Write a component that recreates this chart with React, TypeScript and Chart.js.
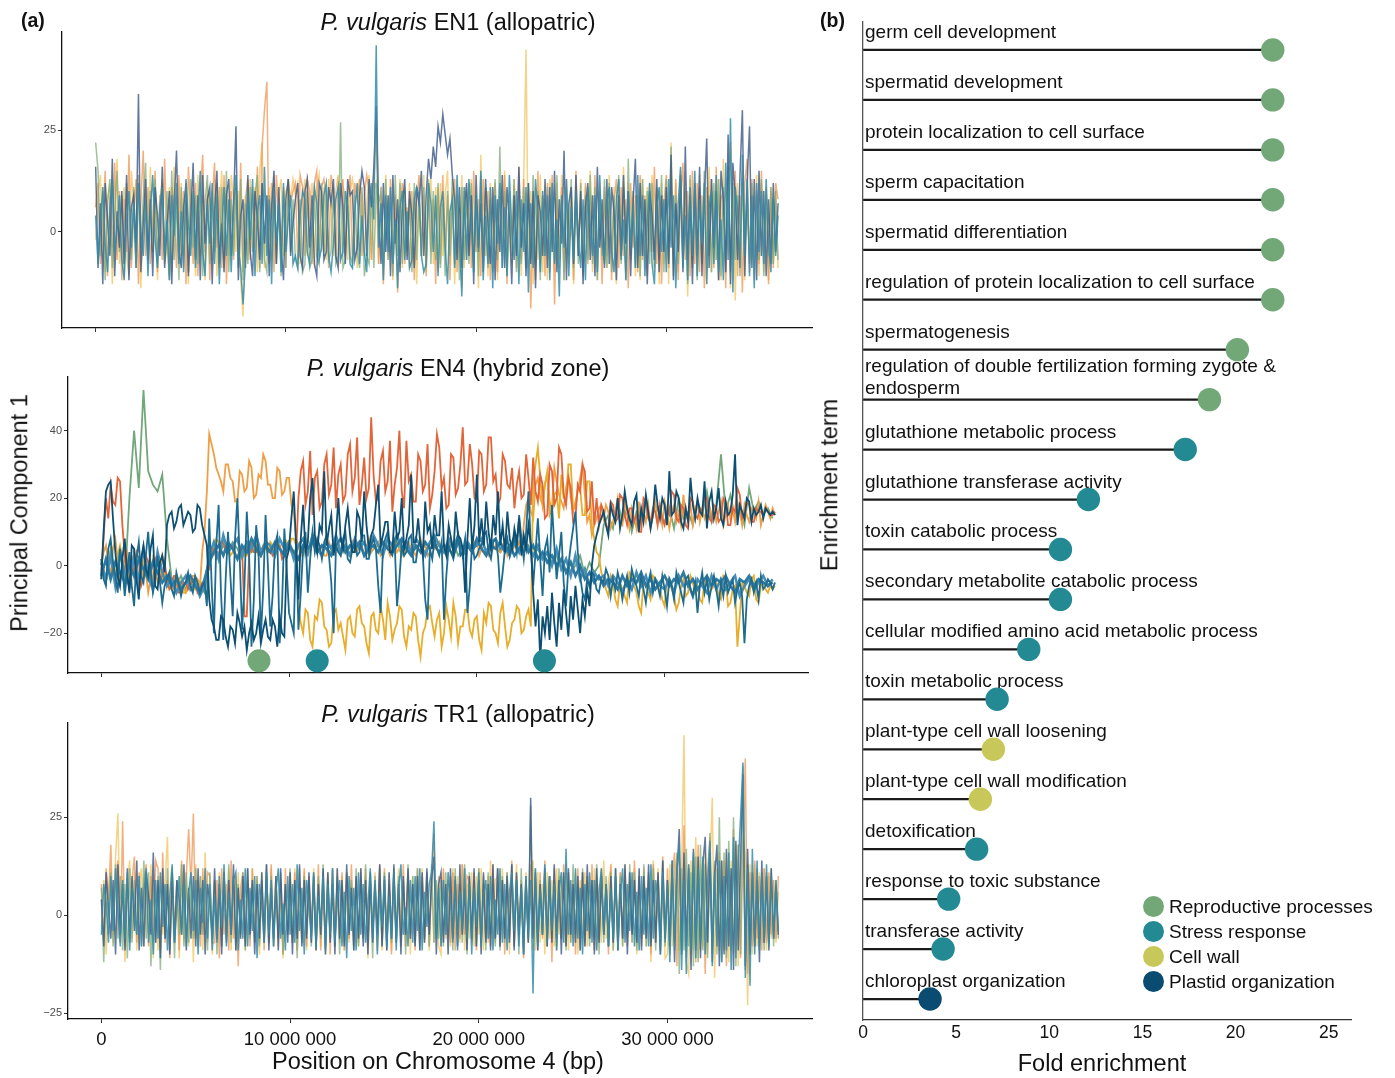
import React, { useEffect, useRef } from 'react';
import { Chart, registerables } from 'chart.js';
Chart.register(...registerables);

const FONT = '"Liberation Sans", Arial, Helvetica, sans-serif';

// ---------------- Panel (a): windowed PCA along chromosome 4 ----------------
const STEP_FINE_BP = 125000; // fine window spacing
const STEP_COARSE_BP = 250000; // coarse window spacing
const X_MIN = -1770000;
const X_MAX = 37660000;
const X_TICKS = [0, 10000000, 20000000, 30000000];
const X_TICK_LABELS = ['0', '10 000 000', '20 000 000', '30 000 000'];

// EN1 (allopatric) — fine windows
const EN1_YELLOW = [
  -2, 9, 14, -6, -10, 8, 12, -13, 5, 18, -8, 3,
  11, -6, -11, 15, 7, -9, 12, -14, 4, 8, -6, 16,
  -5, 10, -12, 8, 13, -8, -4, 11, -10, 16, 6, -7,
  12, -9, 5, -13, 10, 7, -11, 14, -6, 9, -12, 11,
  8, -7, 13, -11, 4, 15, -9, 11, -6, 14, 8, -5,
  10, -12, -21, 9, -7, 13, -4, 11, -10, 15, 22, -9,
  6, 11, -7, 14, -8, 9, 13, -6, 10, 12, 8, 13,
  9, 12, -8, 8, 13, -6, 7, 12, -9, 11, 14, -5,
  11, -7, 13, 7, -6, 10, 14, -8, 11, 9, -7, 10,
  13, 8, -9, 12, 9, -6, 7, 14, -7, 10, 12, -8,
  9, -11, 14, -7, 10, -12, 8, -5, 13, -9, 11, -6,
  12, -8, 10, -13, 9, -6, 14, -10, 7, 13, -8, 11,
  -10, 12, -6, 9, 15, -8, 11, -13, 10, -7, 14, -9,
  11, -5, 13, -10, 8, -14, 19, -6, 10, -11, 12, -7,
  8, -12, 11, -6, 15, -9, 10, -8, 13, -5, 9, -11,
  12, 45, -9, 10, -13, 11, -7, 14, -10, 8, -12, 13,
  9, -10, 12, -7, 14, -12, 10, -8, 11, -13, 8, -6,
  13, -9, 11, -6, 15, -10, 8, -12, 12, -7, 10, -9,
  14, -8, 11, -13, 9, -6, 16, -10, 12, -7, 10, -11,
  8, -12, 13, -9, 11, -5, 14, -10, 9, -13, 12, -8,
  10, -13, 22, -8, 12, -10, 15, -9, 11, -16, 13, -7,
  9, -11, 14, -8, 12, -13, 16, -10, 10, -7, 13, -12,
  18, -10, 13, -14, 11, -17, 12, -9, 15, -12, 10, -8,
  11, -9, 14, -11, 12, -10, 9, -12, 11, -8, 10, -9,
];
const EN1_ORANGE = [
  6, 12, -8, 3, 15, -11, 9, -4, 17, -7, 10, -12,
  8, -5, 19, -9, 4, 13, -13, 7, 20, -6, 11, -8,
  3, 15, -10, 9, -7, 18, -2, -12, 11, 6, -9, 14,
  -6, 10, -13, 16, 5, -8, 12, -11, 8, 19, -5, 9,
  -12, 7, 17, -4, 11, -9, 14, -13, 6, 10, -7, 12,
  -5, 17, -10, 8, 13, -7, 11, -4, 16, -9, 21, 30,
  37, -8, 12, -10, 14, 4, -6, 11, -9, 13, 7, 10,
  12, -7, 14, 11, -6, 13, 10, -8, 12, 15, -5, 11,
  13, 8, -9, 14, 10, -7, 12, 9, 13, -6, 8, 14,
  -8, 12, 8, 13, -6, 9, 14, 10, -7, 12, 26, -8,
  11, -13, 7, -6, 13, -10, 9, -15, 5, 12, -8, 6,
  -9, 10, -12, 7, 14, -6, 9, -11, 12, -5, 8, -13,
  11, -8, 14, -4, 9, -12, 7, 13, -10, 6, -14, 10,
  -7, 12, -9, 15, -5, 8, -11, 13, -6, 10, -12, 7,
  12, -10, 9, -6, 14, -13, 8, -4, 11, -9, 16, -7,
  13, -6, 10, -19, 7, -12, 15, -8, 9, -11, 12, -5,
  14, -18, 8, -7, 11, -10, 13, -6, 9, -12, 15, -4,
  8, -11, 12, -8, 10, -5, 14, -9, 7, -13, 11, -6,
  10, -12, 7, 13, -9, 11, -6, 8, -14, 12, -4, 9,
  -10, 14, -7, 9, -11, 12, -5, 16, -8, 10, -13, 7,
  14, -9, 11, -6, 13, -12, 8, 17, -7, 10, -11, 15,
  -8, 12, -10, 9, -14, 11, -6, 13, -9, 16, -12, 8,
  10, -14, 13, 22, -7, 15, -11, 9, -15, 12, 18, -10,
  13, -12, 9, -8, 15, -6, 11, -13, 10, -9, 12, 8,
];
const EN1_GREEN = [
  22, 15, -6, 10, -12, 7, 13, -9, 4, 15, -5, 9,
  -11, 12, 5, -7, 11, -9, 14, -4, 8, 17, -8, 10,
  -5, 13, -8, 6, 12, -6, 10, -11, 15, -7, 9, -12,
  11, -6, 8, -10, 13, -4, 9, -8, 12, -11, 7, 14,
  -8, 10, -5, 12, -9, 11, -7, 15, -10, 8, -6, 11,
  -9, 13, -12, 7, -8, 11, -5, 9, 14, -10, 12, -7,
  -10, 9, -6, 12, -8, 7, -11, 10, -9, 13, -5, 8,
  -7, -9, 8, -10, -8, 10, -9, -7, 9, -6, -8, 12,
  -6, 10, -7, -5, 11, -8, -6, 27, -9, -7, 10, -6,
  -8, 9, -5, -9, 11, -11, -6, -8, 10, -9, 12, 7,
  10, -9, 13, -7, 9, -11, 14, -6, 12, -8, 10, -5,
  8, -10, 12, -7, 9, -6, 11, -9, 13, -8, 10, -7,
  12, -9, 7, -11, 10, -6, 13, -8, 9, -12, 11, -7,
  10, -8, 12, -6, 9, -11, 14, -7, 11, -9, 8, -10,
  13, -7, 21, -9, 10, -11, 8, -6, 13, -10, 9, -8,
  11, -9, 12, -7, 14, -8, 10, -12, 9, -6, 11, -10,
  10, -7, 14, -9, 8, -12, 11, -6, 13, -9, 10, -8,
  12, -10, 9, -7, 14, -8, 11, -12, 10, -6, 13, -9,
  12, -10, 9, -7, 14, -8, 11, -12, 18, -6, 10, -9,
  9, -11, 13, -6, 10, -8, 12, -9, 11, -7, 14, -10,
  13, -7, 21, -11, 9, -8, 12, -6, 10, -13, 14, -9,
  10, -12, 11, -8, 15, -6, 9, -10, 12, -7, 13, -11,
  11, -8, 16, -10, 12, -7, 9, -11, 13, -6, 10, -8,
  12, -9, 10, -7, 13, -11, 9, -6, 11, -8, 10, -7,
];
const EN1_NAVY = [
  16, -9, 7, -13, 12, 3, -6, 18, -11, 5, -4, 10,
  -8, 14, -12, 6, 9, -5, 34, -10, 2, 13, -7, 8,
  -11, 11, 4, -6, 16, -9, 1, 10, -13, 7, 20, -4,
  -9, 6, 12, -11, 3, 17, -7, 9, -12, 14, -3, 8,
  11, -13, 5, 15, -8, 2, -10, 9, 13, -6, 7, 26,
  -12, 4, 8, -9, 14, -5, -11, 10, 3, -7, 12, -3,
  9, -11, 6, 15, -8, 11, -4, -12, 8, 13, -6, 2,
  8, 12, -6, -9, 10, 13, -4, 9, -8, -11, 12, 10,
  -7, -5, 11, 7, 13, -6, -9, 12, 6, -8, 13, 9,
  10, -7, -4, 9, 15, 11, -6, 13, 6, 16, 31, 5,
  -8, 12, -5, 9, -11, 14, -3, 8, -10, 6, 13, -7,
  10, 4, -9, 11, 7, 15, -6, 9, 18, 13, 21, 16,
  26, 22, 29, 24, 19, 23, 14, 8, -7, 11, -9, 5,
  12, -6, 9, -13, 14, -4, 7, -10, 13, 2, -8, 11,
  -12, 8, -5, 14, -9, 11, 3, -13, 9, -6, 16, -4,
  7, -11, 12, -8, 10, -14, 9, 5, -6, 13, -9, 11,
  -5, 15, -10, 8, -3, 20, -12, 7, 11, -8, 14, -6,
  10, -13, 6, 12, -7, 9, -11, 16, -4, 8, -9, 13,
  -8, 11, 5, -12, 9, -6, 14, -3, 10, -11, 7, 18,
  -9, 12, -6, 8, -13, 10, 4, -7, 13, -10, 9, -5,
  11, -8, 19, -12, 7, -5, 14, -10, 21, -7, 9, -13,
  12, -6, 16, -11, 8, 23, -9, 13, -4, 10, -12, 15,
  8, -10, 24, -13, 17, 9, -7, 14, 30, -11, 12, 26,
  -9, 13, -12, 15, -6, 10, -11, 8, -8, 12, -5, 7,
];
const EN1_TEAL = [
  4, -8, 2, 11, -3, -10, 6, 13, -5, 1, 9, -7,
  -12, 3, 10, -4, 7, -9, 12, 0, -6, 8, -11, 5,
  14, -2, -9, 6, 11, -7, 3, -12, 9, -1, 12, -8,
  5, -10, 13, 2, -6, 10, -9, 4, 15, -5, -11, 7,
  -3, 12, -8, 9, -13, 1, 11, -6, 8, -10, 6, 14,
  -4, -9, -18, -7, 10, -2, 13, -11, 5, 9, -8, 16,
  -6, 8, -13, 11, -3, 7, -10, 12, -5, 3, 9, -8,
  -6, -9, 4, 10, 8, -5, -8, 2, 11, 7, -7, -4,
  9, 12, -6, -10, -3, 8, 11, -7, -5, 10, 6, -8,
  -9, 5, 12, -8, 4, -5, -10, 7, 12, 3, 46, -4,
  7, -12, 9, -5, 11, -8, 3, -14, 6, 10, -7, 5,
  -9, -7, 8, 11, 9, -6, -10, -8, 12, 7, -5, 9,
  -11, 6, 10, -4, -13, 5, 8, -9, 14, -2, -16, 11,
  -7, 13, 2, -10, 9, -5, 15, -12, 4, -8, 11, -14,
  9, -3, 12, -9, 6, -11, 14, 1, -7, 10, -13, 8,
  -5, 11, -15, 7, -9, 13, 4, -10, 10, -6, 9, -12,
  12, -8, 3, -16, 9, -4, 13, -11, 6, -7, 10, -2,
  -9, 8, -12, 11, 2, -6, 9, -10, 14, -3, -8, 7,
  11, -5, -10, 8, 13, -7, 3, -12, 10, -4, 7, -9,
  14, -6, 9, -11, 2, 12, -8, -13, 6, 11, -5, 8,
  -10, 13, -4, 9, -14, 7, 16, -9, 4, -12, 11, -6,
  15, -11, 8, -3, 12, -13, 6, 10, -8, 14, -10, 3,
  -12, 17, -7, 28, -15, 11, 5, -9, 19, -6, 13, -11,
  9, -14, 12, -5, 10, -8, 13, -3, -10, 8, -6, 4,
];

// EN4 (hybrid zone) — coarse windows
const EN4_GREEN = [
  1, -5, 5, -3, 4, -6, 20, 40, 23, 52, 28, 24,
  22, 27, 8, -4, -6, -3, -7, -5, -4, -6, -8, 2,
  5, 3, 6, 4, 7, 5, 2, 6, 4, 5, 3, 6,
  4, 6, 5, 3, 7, 4, 6, 5, 3, 7, 4, 6,
  5, 4, 7, 3, 6, 5, 4, 6, 7, 3, 5, 6,
  4, 6, 5, 7, 3, 6, 4, 5, 6, 4, 7, 5,
  6, 4, 5, 7, 3, 5, 6, 4, 7, 5, 3, 6,
  5, 4, 6, 3, 7, 5, 4, 6, 3, 5, 2, 4,
  1, 3, -1, 2, -2, 0, 3, -3, 1, -2, 0, 12,
  15, 11, 19, 13, 17, 10, 16, 14, 20, 12, 18, 15,
  13, 17, 11, 20, 14, 16, 12, 19, 15, 22, 13, 18,
  33, 16, 21, 14, 18, 12, 23, 16, 19, 15, 17, 14,
];
const EN4_STEEL2 = [
  1, -4, 3, -6, 4, -2, -6, 3, -5, 5, -3, -7,
  4, -2, -6, -4, -8, -5, -3, -7, -5, -9, -6, 3,
  7, 2, 9, 4, 6, 8, 3, 7, 5, 9, 4, 7,
  6, 3, 8, 5, 7, 2, 6, 8, 4, 9, 5, 3,
  7, 5, 9, 4, 6, 3, 8, 5, 7, 4, 9, 6,
  3, 8, 6, 9, 5, 7, 4, 8, 6, 3, 7, 9,
  6, 4, 8, 5, 9, 3, 7, 5, 6, 8, 4, 7,
  8, 5, 6, 3, 7, 4, 8, 5, 3, 6, 2, 4,
  0, 5, -1, 2, -3, 3, -4, -1, -6, -2, -4, -3,
  -6, -3, -5, -8, -4, -7, -2, -6, -3, -8, -4, -6,
  -7, -4, -8, -3, -6, -5, -9, -4, -6, -8, -3, -7,
  -4, -7, -5, -3, -9, -6, -4, -7, -5, -3, -6, -4,
];
const EN4_STEEL = [
  -3, 2, -4, 1, -2, -5, 0, -3, 2, -1, -4, 1,
  -2, -5, -3, -6, -4, -7, -5, -3, -6, -8, -4, 1,
  4, 6, 3, 7, 5, 2, 6, 4, 8, 5, 3, 6,
  4, 7, 5, 3, 6, 4, 2, 6, 5, 7, 4, 6,
  5, 3, 6, 8, 4, 6, 5, 7, 3, 5, 6, 4,
  7, 5, 4, 6, 8, 5, 3, 6, 4, 7, 5, 6,
  4, 6, 5, 3, 7, 5, 6, 4, 8, 5, 3, 6,
  5, 7, 4, 6, 3, 5, 7, 4, 6, 2, 4, 1,
  3, 0, 2, -2, 1, -3, 0, -4, -2, -5, -3, -6,
  -4, -5, -7, -3, -6, -4, -5, -2, -6, -4, -7, -5,
  -3, -6, -4, -5, -2, -6, -4, -7, -5, -3, -6, -4,
  -5, -3, -6, -8, -4, -5, -3, -6, -4, -5, -6, -5,
];
// EN4 (hybrid zone) — fine windows
const EN4_ORANGE = [
  0, 4, 6, 1, -3, 5, 8, 2, -5, -1, 2, 4,
  -7, -2, 4, 1, -3, -5, 1, -2, -8, -4, 2, -1, -5, -3, 3, 0,
  -6, -3, -4, -7, -7, -4, -5, -6, -8, -7, -6, -3, -3, -7, -7, 4, 10, 22,
  39, 36, 33, 29, 27, 25, 22, 30, 30, 26, 25, 19, 19, 28, 27, 22, 23, 31, 29, 20,
  21, 27, 26, 33, 31, 24, 24, 20, 20, 29, 28, 21, 22, 26, 26, 18, 16, 8,
  6, 3, 3, 8, 5, 4, 7, 6, 5, 4, 6, 3,
  3, 7, 5, 6, 8, 4, 4, 5, 6, 3, 3, 7,
  5, 4, 7, 6, 3, 5, 8, 4, 5, 6, 7, 3,
  4, 6, 5, 3, 7, 8, 4, 5, 6, 3, 5, 7,
  5, 4, 3, 6, 8, 5, 6, 3, 4, 7, 5, 6,
  7, 4, 5, 3, 6, 8, 4, 5, 7, 6, 3, 4,
  6, 5, 4, 7, 8, 3, 5, 6, 4, 3, 7, 5,
  6, 5, 4, 6, 7, 3, 5, 4, 6, 5, 7, 4,
  12, 18, 20, 16, 14, 24,
  26, 20, 18, 24, 27, 15, 17, 29, 25, 21, 19, 17, 23, 27, 20, 16, 19, 22, 26, 30,
  21, 13, 15, 9, 12, 14, 17, 18,
  14, 18, 16, 11, 13, 16, 20, 13, 12, 20, 15, 11,
  17, 14, 11, 19, 12, 16, 13, 18, 11, 15, 19, 13,
  16, 12, 19, 16, 11, 15, 18, 13, 16, 12, 21, 14,
  15, 18, 12, 16, 19, 13, 17, 14, 16, 18, 15, 17,
  13, 16, 19, 12, 15, 18, 14, 17, 13, 19, 16, 12,
  18, 15, 13, 17, 16, 14, 19, 12, 15, 18, 16, 14,
  17, 15,
];
const EN4_GOLD = [
  2, -3, -5, 1, 4, -2, -3, 3, 6, 2, -1, -5,
  -4, 1, 3, -2, -6, 0, 2, -3, -2, 1, -5, -3, 2, -1, -4, -2,
  -5, -6, -7, -4, -3, -5, -6, -8, -8, -5, -4, -6, -7, -4, -5, -6, -6, -3,
  2, 4, 5, 8, 7, 4, 3, 6, 6, 3, 4, 7, 8, 5, 5, 3, 3, 6, 7, 5,
  6, 3, 4, 6, 5, 4, 7, 6, 3, 5, 6, 4, 4, 7, 5, 8, 8, 6,
  -12, -17, -20, -13, -14, -22, -24, -15, -16, -10, -11, -18,
  -19, -24, -23, -14, -13, -19, -17, -21, -25, -16, -15, -20,
  -21, -13, -12, -17, -18, -23, -26, -15, -14, -19, -20, -12,
  -16, -22, -11, -15, -22, -19, -17, -12, -13, -21, -24, -18,
  -19, -14, -15, -22, -27, -20, -18, -13, -12, -17, -21, -16,
  -14, -24, -20, -12, -16, -21, -11, -15, -23, -18, -18, -13,
  -13, -19, -21, -16, -15, -22, -25, -14, -17, -11, -12, -19,
  -20, -23, -14, -11, -18, -24, -22, -17, -16, -12, -13, -20,
  -19, -15, -13, -18, 24, 30,
  35, 26, 18, 24, 28, 19, 16, 21, 22, 14, 27, 20, 20, 30, 30, 17, 17, 23, 23, 15,
  15, 25, 25, 12, 8, 4, 3, -2,
  -4, -7, -9, -3, -5, -10, -12, -5, -7, -9, -11, -2,
  -3, -6, -8, -12, -14, -5, -6, -8, -10, -3, -4, -6,
  -7, -10, -12, -4, -5, -7, -9, -13, -11, -6, -4, -9,
  -8, -3, -5, -8, -6, -10, -11, -4, -5, -8, -7, -6,
  -5, -9, -10, -3, -4, -12, -11, -7, -6, -24, -15, -5,
  -6, -8, -9, -4, -3, -10, -11, -6, -5, -7, -8, -6,
  -7, -6,
];
const EN4_RED = [
  -2, 8, 20, 14, 24, 19, 18, 26, 25, 12, 3, -4,
  -5, 2, -3, 4, 2, -6, -4, 3, 1, -5, -6, 2, 3, -4, -3, 1,
  -4, -7, -6, -3, -3, -8, -8, -5, -5, -7, -6, -4, -4, -8, -7, -5, -5, -2,
  -1, 4, 5, 2, 3, 7, 7, 4, 4, 6, 6, 3, 2, 5, 5, -15, -15, 3, 6, 4,
  4, 6, 3, 5, 7, 4, 5, 3, 4, 6, 6, 2, 3, 5, 7, 4, 4, 3,
  20, 28, 31, 18, 22, 34, 15, 26, 28, 17, 19, 30,
  33, 21, 24, 35, 17, 27, 30, 19, 21, 33, 36, 22,
  26, 38, 18, 24, 32, 20, 23, 44, 27, 19, 20, 31,
  34, 22, 25, 37, 16, 24, 29, 40, 22, 17, 37, 25,
  27, 19, 19, 33, 31, 22, 24, 36, 17, 21, 28, 39,
  35, 23, 26, 17, 18, 33, 32, 21, 23, 30, 41, 24,
  25, 36, 30, 20, 19, 34, 33, 22, 24, 38, 38, 25,
  27, 18, 20, 33, 31, 24, 23, 29, 17, 24, 28, 20,
  21, 33, 26, 18, 32, 22,
  19, 27, 24, 14, 15, 30, 28, 18, 20, 35, 33, 21, 18, 26, 23, 13, 14, 24, 22, 30,
  28, 16, 17, 25, 12, 20, 12, 18,
  16, 12, 11, 19, 18, 13, 14, 21, 20, 15, 12, 17,
  17, 13, 15, 10, 10, 20, 19, 14, 13, 17, 16, 12,
  18, 14, 12, 16, 15, 22, 21, 14, 13, 18, 17, 12,
  11, 20, 19, 15, 14, 17, 16, 21, 20, 14, 13, 18,
  17, 13, 14, 20, 19, 12, 12, 17, 16, 23, 21, 14,
  15, 19, 18, 13, 13, 17, 16, 16, 15, 17, 16, 15,
  15, 16,
];
const EN4_DBLUE_B = [
  2, -4, -6, 5, 8, 1, -3, -8, 5, 0, -9, -2,
  4, -6, -12, 2, 7, -3, -5, 3, 10, -1, -8, -4, 3, -5, -11, -6,
  -4, -2, -7, -9, -2, -5, -9, -6, -5, -2, -6, -8, -3, -5, -8, -6, -5, -12,
  14, -5, -20, 6, 18, -8, -22, -4, 10, -3, -15, 8, 20, 2, -19, -6, 16, 3, -24, -10,
  12, 4, -21, -7, 15, 0, -18, -9, 6, 9, -23, -12, 11, -1, -14, -17, -20, 8,
  -19, -8, 5, 10, -8, 2, 10, 4, 8, 6, 2, 7,
  9, 3, -5, -20, 6, 4, 3, 8, 10, 2, 1, 5,
  7, 3, 4, 9, 9, 2, 2, 6, 8, 5, -6, -14,
  5, 8, 10, 4, 3, 7, -12, -4, 6, 3, 4, 8,
  9, 1, 1, 6, 7, 3, -10, -16, 5, 2, 8, 5,
  3, 7, -16, -3, 6, 4, 2, 6, 9, 3, 4, 8,
  -14, -6, 7, 2, 3, 5, 6, 9, 10, 4, 2, 7,
  8, 3, -8, -2, 5, 8, 3, 7, 9, 4, 15, 8,
  2, 10, 22, 6, -6, 4,
  14, 2, -9, 5, 8, -2, 18, 6, -4, 3, 10, -5, -12, 0, 6, 11, 16, 4, -3, -8,
  -10, -4, -6, -2, -3, -7, -8, -4,
  -5, -1, -3, -9, -4, -7, -2, -5, -10, -6, -3, -8,
  -1, -4, -6, -9, -3, -7, -11, -5, -2, -8, -4, -6,
  -9, -3, -7, -12, -4, -6, -10, -2, -5, -8, -11, -4,
  -3, -7, -9, -5, -14, -6, -2, -8, -4, -10, -6, -3,
  -7, -12, -5, -9, -3, -8, -6, -4, -11, -7, -5, -9,
  -23, -10, -6, -4, -8, -5, -10, -3, -7, -6, -4, -5,
  -7, -5,
];
const EN4_DBLUE_A = [
  -4, 10, 22, 24, 25, 14, 4, -3, -6, 2, 8, -2,
  -8, 6, 5, -4, -10, 2, 6, -1, -3, 5, 9, -6, -7, 1, 3, -2,
  12, 15, 16, 11, 13, 17, 18, 12, 14, 16, 15, 10, 11, 18, 17, 12, 9, 6,
  -10, -16, -18, -22, -22, -15, -16, -21, -24, -18, -19, -23, -14, -17, -21, -18, -25, -20, -17, -22,
  -20, -15, -23, -19, -16, -21, -22, -16, -18, -24, -15, -20, -21, 2, 5, 14, 22, 6,
  -10, 8, 18, 4, 7, 20, 26, 9, 4, 12, 10, 28,
  6, 11, 15, 3, 9, 20, 8, 5, 12, 17, 9, 4,
  4, 16, 14, 7, 22, 12, 5, 9, 11, 18, 24, 6,
  9, 13, 13, 4, 4, 16, 8, 10, 20, 5, 8, 12,
  27, 7, 7, 14, 6, 3, 19, 10, 12, 5, 15, 9,
  9, 22, 6, 3, 12, 8, 4, 16, 9, 8, 5, -8,
  8, 20, 5, 12, 27, 7, 14, 6, 19, 10, 5, 15,
  9, 22, 6, 12, 4, 16, 8, 5, 11, 7, 14, 3,
  9, 5, 12, 6, -8, -18,
  -10, -28, -15, -20, -12, -22, -8, -17, -24, -11, -19, -7, -14, -21, -9, -16, -6, -13, -20, -10,
  -15, -7, -12, 0, 6, 9, 12, 14,
  16, 12, 9, 18, 15, 13, 20, 11, 15, 22, 17, 14,
  12, 19, 21, 10, 17, 13, 21, 16, 11, 15, 24, 18,
  14, 20, 18, 12, 28, 15, 16, 22, 20, 13, 11, 17,
  13, 26, 18, 14, 20, 16, 15, 25, 11, 19, 22, 14,
  17, 23, 14, 12, 19, 15, 16, 21, 33, 12, 18, 16,
  14, 20, 19, 13, 17, 15, 16, 18, 14, 17, 16, 15,
  16, 15,
];
// enriched-gene markers on EN4
const EN4_MARK_POS = [8400000, 11500000, 23600000];
const EN4_MARK_Y = [-28.2, -28.2, -28.2];
const EN4_MARK_GROUP = ['Reproductive processes', 'Stress response', 'Stress response'];

// TR1 (allopatric) — fine windows
const TR1_YELLOW = [
  -3, 9, -10, 6, 12, -7, 15, 26, -6, 10, -12, 8,
  14, -6, 11, -9, 7, 12, -8, 10, -5, 13, -11, 9,
  -9, 10, -5, 8, 20, -8, 12, -6, 9, -11, 13, -7,
  11, -8, 9, -12, 13, -6, 10, -9, 16, -7, 8, -10,
  9, -6, 11, -8, 10, -5, 12, -9, 8, -7, 11, -6,
  10, -9, 8, -5, 12, -7, 9, -10, 11, -6, 8, -8,
  12, -6, 10, -8, 9, -11, 8, -5, 11, -7, 12, -9,
  8, -6, 11, -9, 10, -5, 12, -7, 9, -8, 11, -10,
  10, -5, 9, -8, 12, -6, 10, -9, 11, -7, 8, -5,
  9, -8, 12, -6, 10, -11, 8, -5, 11, -7, 12, -9,
  8, -6, 11, -9, 10, -5, 12, -7, 9, -8, 11, -10,
  10, -5, 9, -8, 12, -6, 10, -9, 11, -7, 8, -8,
  -10, 11, -6, 9, -8, 12, -5, 10, -7, 13, -9, 8,
  -6, 11, -8, 10, -5, 12, -9, 8, -7, 14, -6, 9,
  10, -8, 12, -6, 9, -10, 11, -7, 13, -5, 8, -9,
  11, -7, 9, 14, -9, 11, -7, 8, -10, 11, -6, 9,
  -8, 12, -5, 10, -7, 13, -9, 8, -6, 11, -10, 9,
  -6, 11, -8, 10, -5, 12, -9, 8, -7, 14, -6, 9,
  12, -9, 10, -6, 11, -8, 13, -5, 9, -7, 12, -10,
  9, -6, 11, -8, 10, -12, 14, -7, 12, -9, 8, -11,
  -10, 13, -8, 11, 15, -9, 12, 46, -12, -15, 14, -9,
  20, -11, 13, -8, 16, -10, 12, 30, -16, 12, -9, 14,
  -9, 16, -12, 14, -10, 18, -13, 11, 20, 15, -23, 13,
  -10, 13, -8, 11, -7, 12, -9, 10, -6, 9, -7, 6,
];
const TR1_ORANGE = [
  8, -6, 12, 4, 18, -5, 9, 14, -7, 24, -8, 10,
  -6, 9, 15, -7, 11, -5, 9, 13, -8, 10, -6, 14,
  12, -9, 16, -7, 9, -11, 12, -5, 8, -9, 14, -6,
  10, 22, 7, 26, -6, 9, -8, 12, -5, 11, 10, -7,
  -7, 9, -11, 12, -5, 8, -9, 14, -6, 10, -13, 7,
  11, -6, 9, -8, 12, -5, 10, -7, 8, -9, 11, -6,
  13, -8, 10, -6, 9, -10, 12, -5, 8, -7, 11, -9,
  7, -6, 12, -8, 10, -5, 9, -7, 13, -9, 8, -6,
  11, -10, 12, -5, 8, -7, 11, -9, 10, -6, 13, -8,
  9, -7, 11, -6, 12, -8, 10, -5, 9, -9, 13, -7,
  12, -6, 8, -10, 11, -7, 9, -5, 13, -8, 10, -6,
  8, -9, 12, -6, 10, -7, 11, -8, 9, 21, -6, 10,
  -8, 12, -5, 9, -7, 11, -9, 8, -6, 13, -5, 10,
  9, -7, 11, -9, 12, -5, 8, -6, 10, -8, 13, -7,
  12, -6, 9, -10, 11, -5, 14, -8, 10, -6, 9, -11,
  10, -7, 13, -5, 9, -9, 11, -6, 14, -8, 10, -12,
  12, -9, 10, -6, 13, -8, 11, -7, 9, -10, 12, -5,
  11, -8, 9, -6, 13, -9, 10, -7, 12, -5, 8, -10,
  13, -7, 10, -9, 11, -6, 12, -8, 9, -5, 14, -7,
  10, -8, 12, -6, 9, -10, 13, -7, 11, -9, 15, -6,
  12, -9, 10, 16, -13, 14, -8, 23, -11, 13, -10, 15,
  -12, 18, -9, 14, -15, 11, 20, -10, 13, -8, 16, -11,
  14, -13, 12, -9, 22, -8, 18, -11, 15, 40, -15, 11,
  -8, 14, -6, 10, -9, 12, -7, 11, -5, 9, -6, 10,
];
const TR1_GREEN = [
  7, -12, 9, -5, 11, -8, 13, -6, 10, -9, 8, -11,
  12, -7, 9, -5, 10, -8, 14, -6, 11, -13, 9, -7,
  10, -14, 8, -6, 12, -9, 7, -11, 9, -5, 13, -8,
  11, -7, 9, -6, 12, -8, 10, -5, 8, -9, 11, -7,
  9, -10, 7, -8, 11, -6, 13, -7, 10, -9, 8, -5,
  11, -9, 12, -6, 8, -7, 10, -8, 9, -5, 13, -7,
  10, -8, 9, -6, 11, -10, 8, -5, 12, -7, 9, -11,
  12, -7, 10, -5, 9, -8, 11, -9, 10, -6, 13, -8,
  9, -6, 12, -8, 10, -10, 8, -7, 11, -5, 9, -9,
  12, -8, 10, -6, 13, -7, 9, -11, 10, -5, 12, -8,
  11, -9, 8, -7, 12, -6, 10, -8, 9, -10, 13, -5,
  10, -7, 12, -9, 8, -6, 11, -8, 13, -7, 9, -6,
  9, -8, 11, -6, 10, -9, 12, -5, 8, -7, 13, -10,
  11, -6, 9, -8, 12, -7, 10, -9, 11, -5, 8, -8,
  12, -9, 10, -7, 11, -6, 13, -8, 9, -10, 12, -5,
  10, -6, 28, -9, 12, -7, 9, -5, 11, -8, 10, -6,
  9, -8, 12, -6, 10, -9, 11, -7, 13, -5, 8, -9,
  12, -7, 10, -8, 9, -6, 13, -10, 11, -7, 10, -8,
  11, -9, 12, -6, 10, -8, 9, -5, 13, -7, 11, -9,
  10, -6, 13, -8, 11, -7, 12, -9, 10, -5, 14, -8,
  9, -10, 13, -7, 16, -15, 12, -9, 17, -8, 11, -13,
  15, -12, 18, -9, 13, -11, 21, -8, 14, -10, 25, -12,
  16, -11, 19, -9, 25, -13, 18, -10, 38, -14, 13, -10,
  9, -8, 12, -6, 10, -9, 11, -7, 12, -8, 9, -6,
];
const TR1_NAVY = [
  4, -8, 11, 2, -6, 9, -10, 13, -5, 8, -9, 12,
  -7, 10, -4, 14, -9, 7, -8, 11, 5, -5, 16, -7,
  9, -11, 12, -6, 8, -10, 11, -7, 9, 4, -5, 13,
  -9, 7, -6, 10, -8, 12, -5, 9, -10, 8, 3, -6,
  12, -6, 8, -10, 11, -7, 9, -5, 13, -9, 7, -6,
  10, -8, 12, -5, 9, -10, 8, -6, 11, -7, 13, -9,
  7, -6, 10, -9, 12, -5, 8, -7, 11, -10, 9, -6,
  13, -8, 9, -6, 11, -7, 10, -9, 8, -5, 12, -10,
  11, -7, 8, -10, 12, -6, 9, -8, 13, -5, 7, -9,
  10, -6, 12, -8, 9, -10, 11, -7, 8, -5, 13, -8,
  9, -9, 11, -6, 13, -7, 8, -10, 10, -5, 12, -6,
  8, -8, 10, -9, 11, -7, 12, -5, 9, 15, -10, 8,
  11, -7, 8, -10, 12, -6, 9, -8, 13, -5, 7, -9,
  10, -6, 12, -8, 9, -10, 11, -7, 8, -9, 13, -6,
  12, -8, 9, -6, 10, -7, 13, -9, 11, -5, 8, -10,
  9, -7, 30, -6, 11, -9, 8, -5, 12, -8, 10, -7,
  13, -6, 9, -10, 11, -8, 12, -5, 8, -7, 10, -9,
  11, -8, 13, -6, 9, -10, 12, -7, 10, -5, 8, -8,
  10, -7, 12, -9, 8, -6, 13, -10, 11, -5, 9, -7,
  12, -9, 10, -6, 13, -8, 9, -7, 11, -10, 14, -6,
  9, -8, 14, -12, 11, 22, -10, 16, -8, 12, -14, 17,
  -9, 15, -11, 13, 20, -7, 16, -12, 10, 18, -13, 14,
  -10, 17, -8, 12, -14, 19, -9, 15, 36, -13, 17, -10,
  11, -8, 9, -12, 14, -7, 10, -9, 12, -6, 8, -5,
];
const TR1_TEAL = [
  -5, 8, 3, -7, 10, -4, 12, 1, -8, 9, -6, 11,
  -9, 7, 2, -5, 10, -8, 6, 12, -7, 4, -10, 9,
  -6, 11, -3, 8, -9, 5, 13, -7, 2, 10, -5, 8,
  -8, 6, 11, -4, 9, -10, 7, -2, 12, -6, 8, -9,
  5, -7, 10, -3, 13, -8, 6, -5, 9, 11, -9, 4,
  -6, 12, -8, 7, -4, 10, -11, 8, 3, -7, 11, -5,
  9, -8, 6, 12, -6, 3, -9, 10, -5, 8, -7, 13,
  -4, 7, -10, 9, 2, -6, 11, -8, 5, -3, 10, -9,
  8, -5, 12, -7, 4, 9, -8, 6, -11, 10, -4, 7,
  -9, 11, -5, 8, -7, 3, 12, -6, 9, -10, 6, -3,
  10, -8, 5, -6, 11, -9, 7, 13, -5, 2, -8, 9,
  -7, 10, -4, 12, -9, 6, -3, 8, 11, 24, -6, 7,
  -8, 9, -5, 11, 3, -7, 10, -9, 6, -4, 12, -6,
  8, -10, 7, -3, 11, -8, 5, 9, -6, 10, -9, 4,
  -5, 12, -7, 8, -9, 6, 11, -4, 9, -8, 7, -10,
  10, -6, 9, -20, 12, -8, 7, -5, 13, -7, 10, -4,
  8, -9, 6, 11, -7, 17, -5, 9, -8, 12, -6, 7,
  -10, 8, -4, 11, -7, 9, -9, 6, 12, -5, 8, -8,
  7, -6, 10, -9, 5, 12, -7, 8, -4, 11, -8, 6,
  -9, 10, -5, 7, -8, 13, -6, 9, 4, -10, 11, -7,
  8, -12, 14, -9, 11, 18, -14, 9, -15, 13, -9, 16,
  -11, 12, -7, 15, -10, 8, 19, -13, 11, -8, 14, -12,
  10, -9, 16, -14, 20, -11, 13, 25, 39, -16, 12, -18,
  17, -10, 14, -9, 11, -7, 13, -8, 10, -6, 9, -4,
];

// ---------------- Panel (b): GO enrichment ----------------
const TERMS = [
  'germ cell development',
  'spermatid development',
  'protein localization to cell surface',
  'sperm capacitation',
  'spermatid differentiation',
  'regulation of protein localization to cell surface',
  'spermatogenesis',
  'regulation of double fertilization forming zygote &\nendosperm',
  'glutathione metabolic process',
  'glutathione transferase activity',
  'toxin catabolic process',
  'secondary metabolite catabolic process',
  'cellular modified amino acid metabolic process',
  'toxin metabolic process',
  'plant-type cell wall loosening',
  'plant-type cell wall modification',
  'detoxification',
  'response to toxic substance',
  'transferase activity',
  'chloroplast organization',
];
const FOLD = [22.0, 22.0, 22.0, 22.0, 22.0, 22.0, 20.1, 18.6, 17.3, 12.1, 10.6, 10.6, 8.9, 7.2, 7.0, 6.3, 6.1, 4.6, 4.3, 3.6];
const TERM_GROUP = [
  'Reproductive processes', 'Reproductive processes', 'Reproductive processes', 'Reproductive processes',
  'Reproductive processes', 'Reproductive processes', 'Reproductive processes', 'Reproductive processes',
  'Stress response', 'Stress response', 'Stress response', 'Stress response', 'Stress response', 'Stress response',
  'Cell wall', 'Cell wall', 'Stress response', 'Stress response', 'Stress response', 'Plastid organization',
];
const GROUPS = ['Reproductive processes', 'Stress response', 'Cell wall', 'Plastid organization'];
const FOLD_TICKS = [0, 5, 10, 15, 20, 25];

// ---------------- styles ----------------
const GROUP_COLORS: Record<string, string> = {
  'Reproductive processes': '#72a877',
  'Stress response': '#238a93',
  'Cell wall': '#c8c85a',
  'Plastid organization': '#0a4b72',
};
// drawn bottom -> top
const SOFT_COLORS = [
  'rgba(240,196,92,0.75)',
  'rgba(238,150,84,0.75)',
  'rgba(128,172,122,0.75)',
  'rgba(58,88,135,0.8)',
  'rgba(52,140,170,0.85)',
];
const EN4_COLORS = ['#72a77a', '#ee9f47', '#e8ad2b', '#e2653a', '#4a8db4', '#2f79a0', '#1d6c90', '#0c4f73'];
const EN4_WIDTHS = [1.8, 1.8, 1.8, 1.8, 2.6, 2.6, 1.8, 1.8];

const fmtY = (v: number) => (v < 0 ? '\u2212' + Math.abs(v) : String(v));

type PanelSpec = {
  series: number[][];
  steps: number[];
  colors: string[];
  widths: number[];
  yMin: number;
  yMax: number;
  yTicks: number[];
  yWidth: number;
  padTop: number;
  xHeight: number;
  xLabels: boolean;
  marks?: { x: number[]; y: number[]; colors: string[] };
};

function buildLinePanel(canvas: HTMLCanvasElement, p: PanelSpec) {
  const n = p.series.length;
  const datasets: any[] = p.series.map((vals, k) => ({
    type: 'line',
    data: vals.map((v, i) => ({ x: i * p.steps[k], y: v })),
    borderColor: p.colors[k],
    borderWidth: p.widths[k],
    pointRadius: 0,
    tension: 0,
    fill: false,
    order: n - k + 1,
  }));
  if (p.marks) {
    datasets.push({
      type: 'scatter',
      data: p.marks.x.map((x, i) => ({ x, y: p.marks!.y[i] })),
      backgroundColor: p.marks.colors,
      borderWidth: 0,
      pointRadius: 11.5,
      showLine: false,
      order: 0,
    });
  }
  return new Chart(canvas, {
    type: 'line',
    data: { datasets },
    options: {
      animation: false,
      responsive: false,
      devicePixelRatio: 1,
      layout: { padding: { left: 0, right: 8, top: p.padTop, bottom: 0 } },
      plugins: { legend: { display: false }, tooltip: { enabled: false }, title: { display: false } },
      scales: {
        x: {
          type: 'linear',
          min: X_MIN,
          max: X_MAX,
          afterBuildTicks: (ax: any) => { ax.ticks = X_TICKS.map((v) => ({ value: v })); },
          afterFit: (ax: any) => { ax.height = p.xHeight; },
          grid: { drawOnChartArea: false, drawTicks: true, tickLength: 4, color: '#333', lineWidth: 1 },
          border: { display: true, color: '#111', width: 1.3 },
          ticks: {
            autoSkip: false,
            maxRotation: 0,
            padding: 6,
            color: '#111',
            font: { family: FONT, size: 18.5 },
            callback: (v: any) => (p.xLabels ? X_TICK_LABELS[X_TICKS.indexOf(Number(v))] : ''),
          },
        },
        y: {
          type: 'linear',
          min: p.yMin,
          max: p.yMax,
          afterBuildTicks: (ax: any) => { ax.ticks = p.yTicks.map((v) => ({ value: v })); },
          afterFit: (ax: any) => { ax.width = p.yWidth; },
          grid: { drawOnChartArea: false, drawTicks: true, tickLength: 4, color: '#333', lineWidth: 1 },
          border: { display: true, color: '#111', width: 1.3 },
          ticks: { padding: 2, color: '#4d4d4d', font: { family: FONT, size: 11 }, callback: (v: any) => fmtY(Number(v)) },
        },
      },
    } as any,
  });
}

const termLabelPlugin = {
  id: 'termLabels',
  beforeDatasetsDraw(chart: any) {
    const { ctx, chartArea, scales } = chart;
    ctx.save();
    ctx.font = `19px ${FONT}`;
    ctx.fillStyle = '#111';
    ctx.textAlign = 'left';
    ctx.textBaseline = 'alphabetic';
    TERMS.forEach((t, i) => {
      const y = scales.y.getPixelForValue(i + 1);
      const lines = t.split('\n');
      if (lines.length === 1) ctx.fillText(lines[0], chartArea.left + 2, y - 12);
      else lines.forEach((ln, k) => ctx.fillText(ln, chartArea.left + 2, y - 6 - (lines.length - 1 - k) * 22));
    });
    ctx.restore();
  },
};

function buildEnrichment(canvas: HTMLCanvasElement) {
  const pts = FOLD.map((v, i) => ({ x: v, y: i + 1 }));
  return new Chart(canvas, {
    type: 'bar',
    data: {
      datasets: [
        {
          type: 'scatter',
          data: pts,
          backgroundColor: TERM_GROUP.map((g) => GROUP_COLORS[g]),
          borderWidth: 0,
          pointRadius: 11.7,
          showLine: false,
          order: 0,
        },
        { type: 'bar', data: pts, backgroundColor: '#1a1a1a', barThickness: 1.6, borderWidth: 0, order: 1 },
      ] as any,
    },
    options: {
      indexAxis: 'y',
      animation: false,
      responsive: false,
      devicePixelRatio: 1,
      layout: { padding: { left: 0, right: 44, top: 22, bottom: 0 } },
      plugins: { legend: { display: false }, tooltip: { enabled: false } },
      scales: {
        x: {
          type: 'linear',
          min: 0,
          max: 26.2,
          afterBuildTicks: (ax: any) => { ax.ticks = FOLD_TICKS.map((v) => ({ value: v })); },
          afterFit: (ax: any) => { ax.height = 58; },
          grid: { display: true, drawOnChartArea: false, drawTicks: false },
          border: { display: true, color: '#333', width: 1.3 },
          ticks: { padding: 3, color: '#111', font: { family: FONT, size: 17.5 }, autoSkip: false, maxRotation: 0 },
        },
        y: {
          type: 'linear',
          reverse: true,
          offset: false,
          min: 0.44,
          max: 20.42,
          afterFit: (ax: any) => { ax.width = 53; },
          grid: { display: false, offset: false },
          border: { display: true, color: '#555', width: 1.3 },
          ticks: { display: false },
        },
      },
    } as any,
    plugins: [termLabelPlugin],
  });
}

// text helper: place by baseline with line-height = font size
const txt = (
  s: React.ReactNode,
  cx: number,
  baseline: number,
  fs: number,
  extra: React.CSSProperties = {},
  align: 'center' | 'left' = 'center'
) => (
  <div
    style={{
      position: 'absolute',
      left: cx,
      top: baseline - 0.8465 * fs,
      fontSize: fs,
      lineHeight: `${fs}px`,
      whiteSpace: 'nowrap',
      transform: align === 'center' ? 'translateX(-50%)' : undefined,
      ...extra,
    }}
  >
    {s}
  </div>
);

const vtxt = (s: string, cx: number, cy: number, fs: number) => (
  <div
    style={{
      position: 'absolute',
      left: cx,
      top: cy,
      fontSize: fs,
      lineHeight: `${fs}px`,
      whiteSpace: 'nowrap',
      transform: 'translate(-50%, -50%) rotate(-90deg)',
    }}
  >
    {s}
  </div>
);

export default function App() {
  const c1 = useRef<HTMLCanvasElement>(null);
  const c2 = useRef<HTMLCanvasElement>(null);
  const c3 = useRef<HTMLCanvasElement>(null);
  const c4 = useRef<HTMLCanvasElement>(null);

  useEffect(() => {
    const charts: Chart[] = [];
    const F = STEP_FINE_BP;
    const C = STEP_COARSE_BP;
    charts.push(
      buildLinePanel(c1.current!, {
        series: [EN1_YELLOW, EN1_ORANGE, EN1_GREEN, EN1_NAVY, EN1_TEAL],
        steps: [F, F, F, F, F],
        colors: SOFT_COLORS,
        widths: [1.5, 1.5, 1.5, 1.5, 1.5],
        yMin: -23.8,
        yMax: 49.3,
        yTicks: [0, 25],
        yWidth: 62,
        padTop: 32,
        xHeight: 17,
        xLabels: false,
      })
    );
    charts.push(
      buildLinePanel(c2.current!, {
        series: [EN4_GREEN, EN4_ORANGE, EN4_GOLD, EN4_RED, EN4_STEEL2, EN4_STEEL, EN4_DBLUE_B, EN4_DBLUE_A],
        steps: [C, F, F, F, C, C, F, F],
        colors: EN4_COLORS,
        widths: EN4_WIDTHS,
        yMin: -31.8,
        yMax: 55.9,
        yTicks: [-20, 0, 20, 40],
        yWidth: 68,
        padTop: 32,
        xHeight: 17,
        xLabels: false,
        marks: { x: EN4_MARK_POS, y: EN4_MARK_Y, colors: EN4_MARK_GROUP.map((g) => GROUP_COLORS[g]) },
      })
    );
    charts.push(
      buildLinePanel(c3.current!, {
        series: [TR1_YELLOW, TR1_ORANGE, TR1_GREEN, TR1_NAVY, TR1_TEAL],
        steps: [F, F, F, F, F],
        colors: SOFT_COLORS,
        widths: [1.5, 1.5, 1.5, 1.5, 1.5],
        yMin: -26.5,
        yMax: 49.1,
        yTicks: [-25, 0, 25],
        yWidth: 68,
        padTop: 33,
        xHeight: 59,
        xLabels: true,
      })
    );
    charts.push(buildEnrichment(c4.current!));
    return () => charts.forEach((c) => c.destroy());
  }, []);

  const cv = (ref: any, left: number, top: number, w: number, h: number) => (
    <canvas ref={ref} width={w} height={h} style={{ position: 'absolute', left, top, width: w, height: h }} />
  );

  return (
    <div
      style={{
        position: 'absolute',
        left: 0,
        top: 0,
        width: 1395,
        height: 1078,
        background: '#fff',
        fontFamily: FONT,
        color: '#111',
        overflow: 'hidden',
      }}
    >
      {cv(c1, 0, 0, 820, 345)}
      {cv(c2, 0, 345, 820, 345)}
      {cv(c3, 0, 690, 820, 388)}
      {cv(c4, 810, 0, 585, 1078)}

      {txt('(a)', 21, 27.6, 19.5, { fontWeight: 'bold' }, 'left')}
      {txt('(b)', 820, 27.6, 19.5, { fontWeight: 'bold' }, 'left')}

      {txt(<><i>P. vulgaris</i> EN1 (allopatric)</>, 458, 30.7, 23.5)}
      {txt(<><i>P. vulgaris</i> EN4 (hybrid zone)</>, 458, 376.7, 23.5)}
      {txt(<><i>P. vulgaris</i> TR1 (allopatric)</>, 458, 723.3, 23.5)}

      {txt('Position on Chromosome 4 (bp)', 438, 1069.5, 23.5)}
      {vtxt('Principal Component 1', 20.4, 513, 23.5)}

      {txt('Fold enrichment', 1102, 1072, 23.5)}
      {vtxt('Enrichment term', 830, 485, 23.5)}

      {GROUPS.map((g, i) => (
        <React.Fragment key={g}>
          <div
            style={{
              position: 'absolute',
              left: 1153.3 - 10.7,
              top: 906.7 + i * 25 - 10.7,
              width: 21.4,
              height: 21.4,
              borderRadius: '50%',
              background: GROUP_COLORS[g],
            }}
          />
          {txt(g, 1169, 906.7 + i * 25 + 6.8, 19, {}, 'left')}
        </React.Fragment>
      ))}
    </div>
  );
}
